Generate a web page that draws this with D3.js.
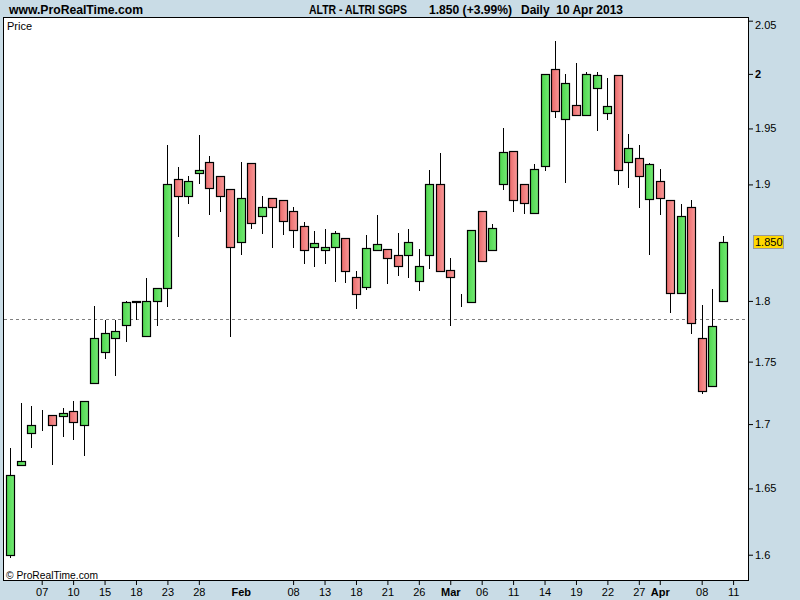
<!DOCTYPE html>
<html><head><meta charset="utf-8">
<script src="https://cdn.jsdelivr.net/npm/d3@7"></script>
<style>html,body{margin:0;padding:0;background:#c9dce6;} svg{display:block;} text{white-space:pre;}</style>
</head><body><svg id="c" width="800" height="600"></svg>
<script>
// ---- data (ALTR - ALTRI SGPS, daily, Jan 2 - Apr 10 2013) ----
const dates = ["2013-01-02","2013-01-03","2013-01-04","2013-01-07","2013-01-08","2013-01-09","2013-01-10","2013-01-11",
"2013-01-14","2013-01-15","2013-01-16","2013-01-17","2013-01-18","2013-01-21","2013-01-22","2013-01-23","2013-01-24",
"2013-01-25","2013-01-28","2013-01-29","2013-01-30","2013-01-31","2013-02-01","2013-02-04","2013-02-05","2013-02-06",
"2013-02-07","2013-02-08","2013-02-11","2013-02-12","2013-02-13","2013-02-14","2013-02-15","2013-02-18","2013-02-19",
"2013-02-20","2013-02-21","2013-02-22","2013-02-25","2013-02-26","2013-02-27","2013-02-28","2013-03-01","2013-03-04",
"2013-03-05","2013-03-06","2013-03-07","2013-03-08","2013-03-11","2013-03-12","2013-03-13","2013-03-14","2013-03-15",
"2013-03-18","2013-03-19","2013-03-20","2013-03-21","2013-03-22","2013-03-25","2013-03-26","2013-03-27","2013-03-28",
"2013-04-02","2013-04-03","2013-04-04","2013-04-05","2013-04-08","2013-04-09","2013-04-10"];
const openP  = [1.600,1.668,1.693,1.700,1.707,1.706,1.710,1.699,1.733,1.758,1.769,1.780,1.799,1.771,1.800,1.811,1.905,
1.890,1.910,1.920,1.907,1.896,1.850,1.919,1.872,1.888,1.886,1.877,1.864,1.846,1.843,1.846,1.853,1.820,1.812,1.843,1.844,
1.839,1.839,1.817,1.839,1.900,1.826,1.797,1.799,1.877,1.843,1.900,1.930,1.900,1.875,1.916,2.005,1.959,1.971,1.962,1.987,
1.964,1.999,1.920,1.923,1.887,1.903,1.886,1.807,1.880,1.769,1.730,1.800];
const highP  = [1.681,1.717,1.714,1.711,1.707,1.713,1.718,1.718,1.796,1.784,1.784,1.800,1.800,1.819,1.811,1.935,1.915,
1.907,1.944,1.925,1.907,1.896,1.920,1.919,1.890,1.888,1.886,1.880,1.867,1.859,1.861,1.859,1.853,1.825,1.856,1.873,1.844,
1.858,1.861,1.844,1.913,1.928,1.836,1.806,1.860,1.877,1.865,1.950,1.930,1.900,1.918,2.000,2.031,2.000,2.010,2.002,2.002,
1.996,1.999,1.945,1.935,1.919,1.914,1.886,1.883,1.886,1.797,1.810,1.855];
const lowP   = [1.598,1.668,1.682,1.695,1.669,1.691,1.688,1.676,1.733,1.753,1.739,1.767,1.785,1.771,1.780,1.796,1.855,
1.884,1.901,1.874,1.877,1.771,1.840,1.862,1.858,1.846,1.857,1.846,1.832,1.829,1.832,1.817,1.816,1.794,1.810,1.843,1.815,
1.822,1.820,1.809,1.828,1.825,1.780,1.796,1.799,1.834,1.843,1.896,1.877,1.875,1.875,1.913,1.960,1.902,1.962,1.962,1.949,
1.959,1.900,1.898,1.880,1.840,1.874,1.791,1.807,1.773,1.725,1.730,1.800];
const closeP = [1.660,1.671,1.699,1.700,1.699,1.709,1.702,1.718,1.769,1.773,1.775,1.799,1.800,1.800,1.811,1.900,1.890,
1.903,1.913,1.897,1.890,1.846,1.888,1.866,1.880,1.880,1.868,1.860,1.843,1.849,1.846,1.858,1.825,1.806,1.845,1.848,1.836,
1.829,1.850,1.829,1.900,1.825,1.820,1.797,1.860,1.834,1.862,1.929,1.886,1.884,1.914,2.000,1.966,1.992,1.962,2.000,1.999,
1.970,1.913,1.932,1.907,1.918,1.888,1.807,1.872,1.782,1.726,1.779,1.850];
const refLevel = 1.785;
const lastPrice = 1.850;
const yTicks = [1.6,1.65,1.7,1.75,1.8,1.9,1.95,2,2.05];
const yTickLabels = ["1.6","1.65","1.7","1.75","1.8","1.9","1.95","2","2.05"];
const xTickIdx = [3,6,9,12,15,18,22,27,30,33,36,39,42,45,48,51,54,57,60,62,66,69];
const xTickLabels = ["07","10","15","18","23","28","Feb","08","13","18","21","26","Mar","06","11","14","19","22","27","Apr","08","11"];
const monthLabels = ["Feb","Mar","Apr"];

// ---- drawing ----
const svg = d3.select("#c");
const FONT = "'Liberation Sans', Arial, sans-serif";
const NARROW = "'Liberation Sans Narrow', 'Arial Narrow', 'Liberation Sans', sans-serif";
const L = 3, T = 17, R = 749, B = 581;

svg.append("rect").attr("width",800).attr("height",600).attr("fill","#c9dce6");
const defs = svg.append("defs");
function grad(id, c0, c1){
  const g = defs.append("linearGradient").attr("id",id).attr("x1",0).attr("x2",1).attr("y1",0).attr("y2",0);
  g.append("stop").attr("offset","0%").attr("stop-color",c0);
  g.append("stop").attr("offset","100%").attr("stop-color",c1);
}
grad("gUp","#4ed64e","#74ea74");
grad("gDn","#ea6a6a","#fa9a9a");

svg.append("rect").attr("x",L+0.5).attr("y",T+0.5).attr("width",R-L-1).attr("height",B-T-1)
  .attr("fill","#fff").attr("stroke","#000").attr("stroke-width",1);

const x = d3.scaleLinear().domain([0,69]).range([10.27,733.1]);
const y = d3.scaleLog().domain([1.5806,2.0535]).range([B,T]);

// reference dashed line
svg.append("line").attr("x1",L+1).attr("x2",R-1)
  .attr("y1",Math.round(y(refLevel))+0.5).attr("y2",Math.round(y(refLevel))+0.5)
  .attr("stroke","#808080").attr("stroke-dasharray","3,3");

const data = dates.map((d,i)=>({i, o:openP[i], h:highP[i], l:lowP[i], c:closeP[i]}));
const g = svg.append("g");
const cd = g.selectAll("g.c").data(data).join("g").attr("class","c");
cd.append("line")
  .attr("x1",d=>Math.round(x(d.i))+0.5).attr("x2",d=>Math.round(x(d.i))+0.5)
  .attr("y1",d=>Math.round(y(d.h))).attr("y2",d=>Math.round(y(d.l))+1)
  .attr("stroke","#000").attr("stroke-width",1);
cd.append("rect")
  .attr("x",d=>Math.round(x(d.i))-3.5)
  .attr("y",d=>Math.round(y(Math.max(d.o,d.c)))+0.5)
  .attr("width",8)
  .attr("height",d=>Math.max(0,Math.round(y(Math.min(d.o,d.c)))-Math.round(y(Math.max(d.o,d.c)))))
  .attr("fill",d=>d.c>=d.o?"url(#gUp)":"url(#gDn)")
  .attr("stroke","#000").attr("stroke-width",1.2);

// y axis
const ya = svg.append("g").attr("transform",`translate(${R},0)`)
  .call(d3.axisRight(y).tickValues(yTicks).tickSize(4).tickPadding(2).tickFormat((d,i)=>yTickLabels[i]));
ya.select(".domain").remove();
ya.selectAll("line").attr("stroke","#000");
ya.selectAll("text").attr("font-family",FONT).attr("font-size",11).attr("fill","#000")
  .attr("font-weight",d=>d===2?"bold":"normal")
  .attr("dy",d=>d===2.05?"0.75em":"0.32em");

// last price badge
const yl = y(lastPrice);
svg.append("rect").attr("x",753.5).attr("y",Math.round(yl)-6.5).attr("width",30).attr("height",13)
  .attr("fill","#ffd800").attr("stroke","#9a9a9a");
svg.append("text").attr("x",755).attr("y",yl).attr("dy","0.35em").attr("font-family",FONT)
  .attr("font-size",11).text(lastPrice.toFixed(3));

// x axis
const xa = svg.append("g").attr("transform",`translate(0,${B})`)
  .call(d3.axisBottom(x).tickValues(xTickIdx).tickSize(4).tickPadding(3).tickFormat((d,i)=>xTickLabels[i]));
xa.select(".domain").remove();
xa.selectAll(".tick").each(function(d,i){
  const t = d3.select(this);
  t.select("line").attr("stroke","#000").attr("opacity", xTickLabels[i]==="Feb"?0:1);
  t.select("text").attr("font-family",FONT).attr("font-size",11).attr("fill","#000")
    .attr("font-weight", monthLabels.includes(xTickLabels[i])?"bold":"normal");
});

// header
svg.append("text").attr("x",9).attr("y",14).attr("font-family",NARROW).attr("font-weight","bold")
  .attr("font-size",13).attr("textLength",134).attr("lengthAdjust","spacingAndGlyphs").text("www.ProRealTime.com");
svg.append("text").attr("x",309).attr("y",14).attr("font-family",NARROW).attr("font-weight","bold")
  .attr("font-size",13).attr("textLength",98).attr("lengthAdjust","spacingAndGlyphs").text("ALTR - ALTRI SGPS");
svg.append("text").attr("x",429).attr("y",14).attr("font-family",NARROW).attr("font-weight","bold")
  .attr("font-size",13).attr("textLength",83).attr("lengthAdjust","spacingAndGlyphs").text("1.850 (+3.99%)");
svg.append("text").attr("x",521).attr("y",14).attr("font-family",NARROW).attr("font-weight","bold")
  .attr("font-size",13).attr("textLength",102).attr("lengthAdjust","spacingAndGlyphs").text("Daily  10 Apr 2013");
svg.append("text").attr("x",7).attr("y",30).attr("font-family",FONT).attr("font-size",11).text("Price");
svg.append("text").attr("x",6).attr("y",579).attr("font-family",FONT).attr("font-size",11)
  .attr("textLength",92).attr("lengthAdjust","spacingAndGlyphs").text("© ProRealTime.com");
</script></body></html>
